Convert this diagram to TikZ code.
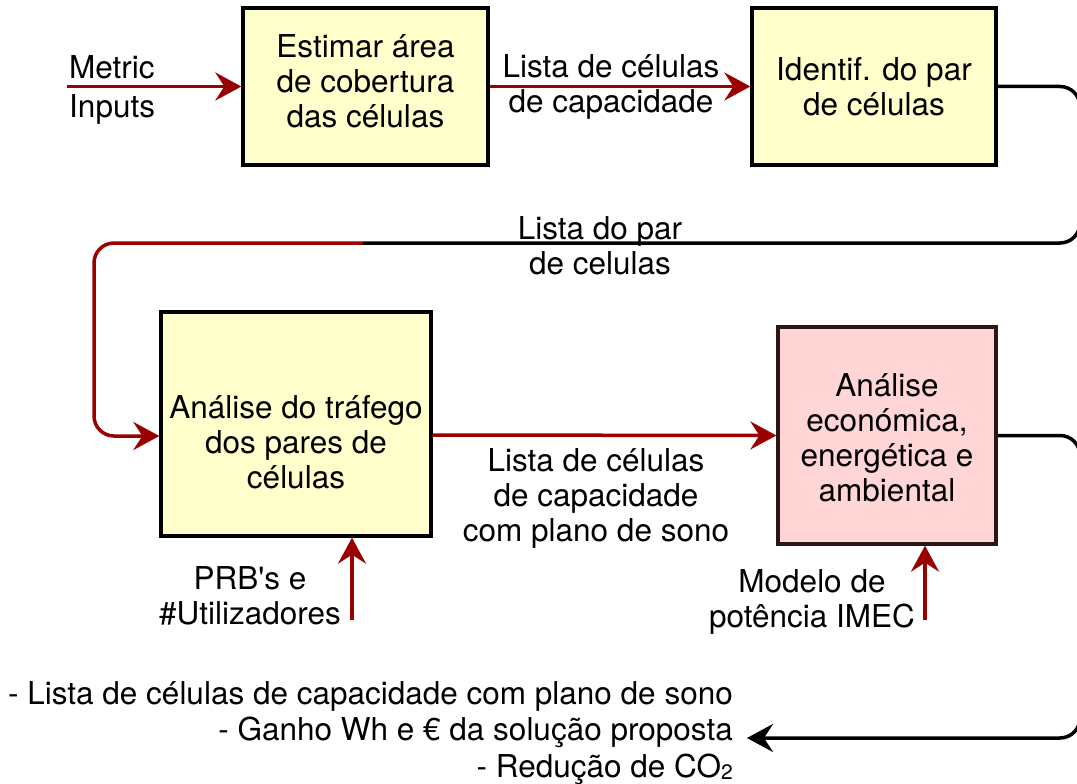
\documentclass[tikz,border=0pt]{standalone}
\usepackage{fontspec}
\setmainfont{TeX Gyre Heros}
\usetikzlibrary{arrows.meta}
\definecolor{boxyellow}{HTML}{FFFFCC}
\definecolor{boxpink}{HTML}{FFD5D5}
\definecolor{pinkborder}{HTML}{2E1515}
\definecolor{darkred}{HTML}{990000}
\tikzset{
  box/.style={draw=black, line width=3.3pt, fill=boxyellow, inner sep=0pt, align=center,
              font=\fontsize{31.5}{35}\selectfont},
  txt/.style={inner sep=0pt, align=center, font=\fontsize{31.5}{35}\selectfont},
  redarrow/.style={draw=darkred, line width=3.5pt, -{Stealth[length=26pt,width=28pt,inset=9pt]}},
  redline/.style={draw=darkred, line width=3.5pt},
  blackline/.style={draw=black, line width=3.5pt},
  blackarrow/.style={draw=black, line width=3.5pt, -{Stealth[length=26pt,width=28pt,inset=9pt]}},
}
\begin{document}
\begin{tikzpicture}[x=1pt,y=-1pt]
\useasboundingbox (0,0) rectangle (1077,784);

% boxes
\node[box, minimum width=245pt, minimum height=157pt] (b1) at (365.5,86.5) {};
\node[txt] (t1) at (365.5,81) {Estimar área\\de cobertura\\das células};
\node[box, minimum width=244pt, minimum height=157pt] (b2) at (874,86.5) {Identif. do par\\de células};
\node[box, minimum width=270pt, minimum height=224pt] (b3) at (296,424) {};
\node[txt] (t3) at (296,442) {Análise do tráfego\\dos pares de\\células};
\node[box, fill=boxpink, draw=pinkborder, minimum width=218pt, minimum height=217pt] (b4) at (887,435.5) {};
\node[txt] (t4) at (887,438) {Análise\\económica,\\energética e\\ambiental};

% metric inputs
\coordinate (min) at (67,86.5);
\node[txt, anchor=west, align=left] (lm) at (69,90) {Metric\\[4pt]Inputs};
\draw[redarrow] (min) -- (b1.west);

% b1 -> b2
\draw[redarrow] (b1.east) -- (b2.west);
\node[txt] (l12) at (611,87) {Lista de células\\de capacidade};

% b2 -> b3
\coordinate (c1) at (1080,86.5);
\coordinate (c2) at (1080,243);
\coordinate (split) at (363,243);
\coordinate (c3) at (94,243);
\coordinate (c4) at (94,436);
\draw[blackline, rounded corners=20pt] (b2.east) -- (c1) -- (c2) -- (split);
\draw[redarrow, rounded corners=20pt] (split) -- (c3) -- (c4) -- ([yshift=-12pt]b3.west);
\node[txt] (l23) at (600,246) {Lista do par\\de celulas};

% b3 -> b4
\draw[redarrow] ([yshift=-11pt]b3.east) -- (b4.west);
\node[txt] (l34) at (596,498) {Lista de células\\de capacidade\\com plano de sono};

% inputs from below
\coordinate (u3) at (352,620);
\draw[redarrow] (u3) -- (u3 |- b3.south);
\node[txt] (prb) at (250,596) {PRB\textquotesingle s e\\\#Utilizadores};

\coordinate (u4) at (925,620);
\draw[redarrow] (u4) -- (u4 |- b4.south);
\node[txt] (mod) at (812,602) {Modelo de\\potência IMEC};

% output
\node[txt, align=right, anchor=east, font=\fontsize{31.5}{36.5}\selectfont] (out) at (733,733)
  {- Lista de células de capacidade com plano de sono\\- Ganho Wh e € da solução proposta\\- Redução de CO\raisebox{-2pt}{\fontsize{21}{21}\selectfont 2}};
\coordinate (d1) at (1080,435.5);
\coordinate (d2) at (1080,738);
\draw[blackarrow, rounded corners=20pt] (b4.east) -- (d1) -- (d2) -- ([xshift=14pt,yshift=-5pt]out.east);
\end{tikzpicture}
\end{document}
